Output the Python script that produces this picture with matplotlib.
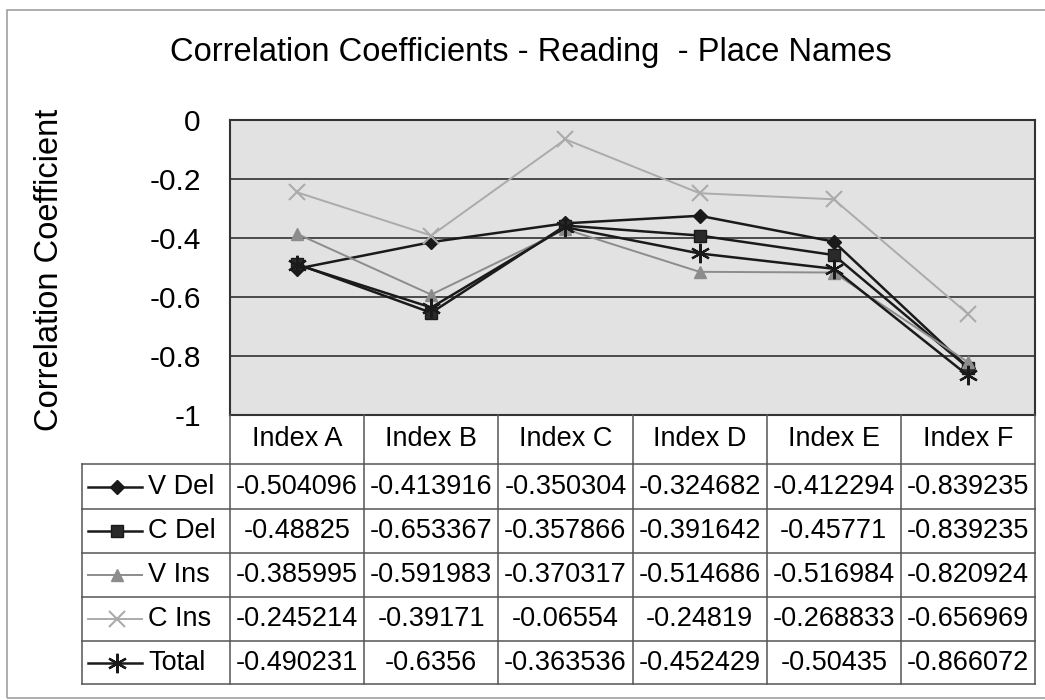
import matplotlib.pyplot as plt
from matplotlib.transforms import blended_transform_factory
from matplotlib.lines import Line2D
from matplotlib.patches import Rectangle

plt.rcParams['font.family'] = ['Liberation Sans', 'DejaVu Sans']

categories = ["Index A", "Index B", "Index C", "Index D", "Index E", "Index F"]
series_names = ["V Del", "C Del", "V Ins", "C Ins", "Total"]
v_del = [-0.504096, -0.413916, -0.350304, -0.324682, -0.412294, -0.839235]
c_del = [-0.48825, -0.653367, -0.357866, -0.391642, -0.45771, -0.839235]
v_ins = [-0.385995, -0.591983, -0.370317, -0.514686, -0.516984, -0.820924]
c_ins = [-0.245214, -0.39171, -0.06554, -0.24819, -0.268833, -0.656969]
total = [-0.490231, -0.6356, -0.363536, -0.452429, -0.50435, -0.866072]
y_ticks = [0, -0.2, -0.4, -0.6, -0.8, -1]

series = [v_del, c_del, v_ins, c_ins, total]
styles = [
    dict(color="#1a1a1a", marker="D", ms=7, mfc="#1a1a1a", mec="#1a1a1a", lw=1.8),
    dict(color="#1a1a1a", marker="s", ms=9, mfc="#2a2a2a", mec="#1a1a1a", lw=1.8),
    dict(color="#8c8c8c", marker="^", ms=9, mfc="#8c8c8c", mec="#8c8c8c", lw=1.4),
    dict(color="#ababab", marker="x", ms=11, mfc="#ababab", mec="#ababab", mew=1.5, lw=1.4),
    dict(color="#1a1a1a", marker=(6, 2, 0), ms=14, mec="#1a1a1a", mew=1.6, lw=1.8),
]

W, H = 1045, 700
fig = plt.figure(figsize=(W / 100, H / 100), dpi=100)

# plot area in pixels
left, right, top, bottom = 230, 1035, 120, 415
ax = fig.add_axes([left / W, 1 - bottom / H, (right - left) / W, (bottom - top) / H])
ax.set_facecolor("#e2e2e2")
x = list(range(len(categories)))
for vals, st in zip(series, styles):
    ax.plot(x, vals, **st, zorder=3)

ax.set_xlim(-0.5, len(categories) - 0.5)
ax.set_ylim(-1, 0)
ax.set_yticks(y_ticks)
ax.set_yticklabels([f"{t:g}" for t in y_ticks], fontsize=21.5)
ax.tick_params(axis="y", length=0, pad=21)
ax.set_xticks([])
ax.grid(axis="y", color="#4a4a4a", lw=1.4)
ax.set_axisbelow(True)
for s in ax.spines.values():
    s.set_color("#333333")
    s.set_linewidth(1.5)

fig.text(531 / W, 1 - 52 / H, "Correlation Coefficients - Reading  - Place Names",
         ha="center", va="center", fontsize=23.5)
fig.text(50 / W, 1 - 270 / H, "Correlation Coefficient", rotation=90,
         ha="center", va="center", fontsize=23.5)

# outer chart frame
fig.add_artist(Rectangle((7 / W, 2 / H), 1.2, 1 - 12 / H, transform=fig.transFigure,
                         fill=False, ec="#a0a0a0", lw=1.2))

# data table under the axis
tr = blended_transform_factory(ax.transData, fig.transFigure)
row_edges = [415, 464, 509, 553, 597, 641, 684]
fy = lambda py: 1 - py / H
lc = "#555555"
label_left = 82

for i, name in enumerate(categories):
    fig.text(i, fy((row_edges[0] + row_edges[1]) / 2), name, transform=tr,
             ha="center", va="center", fontsize=19.5)
# vertical cell lines
for i in range(len(categories) + 1):
    fig.add_artist(Line2D([i - 0.5, i - 0.5], [fy(row_edges[0]), fy(row_edges[-1])],
                          transform=tr, color=lc, lw=1.1))
fig.add_artist(Line2D([label_left / W, label_left / W], [fy(row_edges[1]), fy(row_edges[-1])],
                      transform=fig.transFigure, color=lc, lw=1.1))
for r in row_edges[1:]:
    fig.add_artist(Line2D([label_left / W, right / W], [fy(r), fy(r)],
                          transform=fig.transFigure, color=lc, lw=1.1))

for k, (name, vals, st) in enumerate(zip(series_names, series, styles)):
    yc = fy((row_edges[k + 1] + row_edges[k + 2]) / 2)
    for i, v in enumerate(vals):
        fig.text(i, yc, f"{v:.6f}".rstrip("0"), transform=tr,
                 ha="center", va="center", fontsize=19.5)
    key = dict(st)
    fig.add_artist(Line2D([88 / W, 142 / W], [yc, yc], transform=fig.transFigure,
                          color=key.pop("color"), lw=key.pop("lw"), marker=None))
    fig.add_artist(Line2D([117 / W], [yc], transform=fig.transFigure, ls="none", **key))
    fig.text(148 / W, yc, name, ha="left", va="center", fontsize=19.5)

fig.savefig("out.png", dpi=100)
